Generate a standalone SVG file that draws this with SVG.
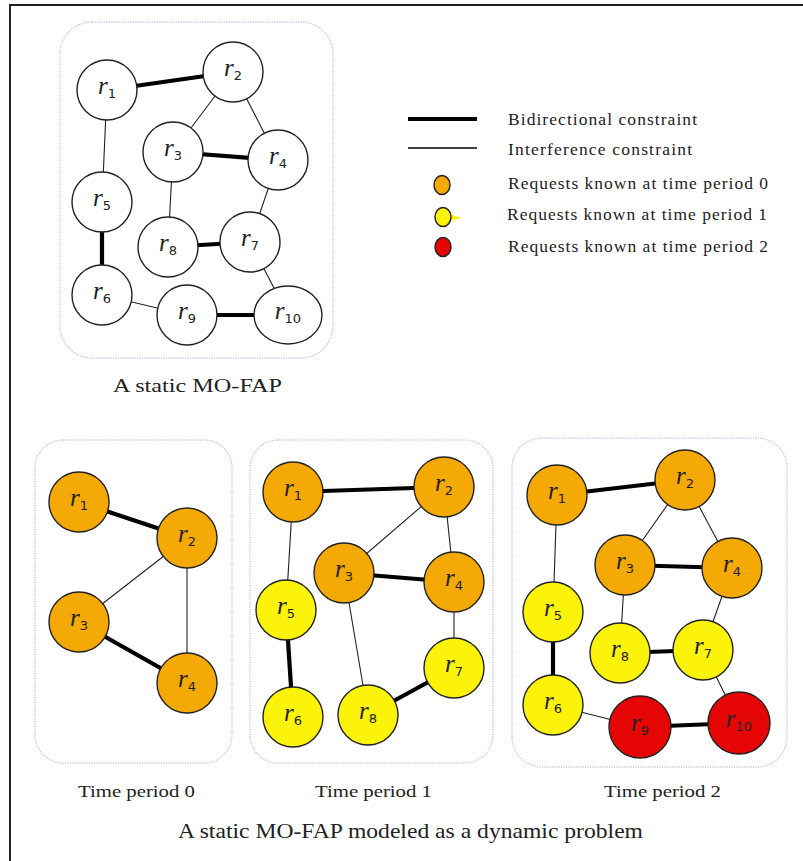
<svg xmlns="http://www.w3.org/2000/svg" width="803" height="861" viewBox="0 0 803 861">
  <style>
    .frame { fill: none; stroke: #222; stroke-width: 2; }
    .panel { fill: #fff; stroke: #bfcbe0; stroke-width: 1.5; stroke-dasharray: 1.2 1.2; }
    .thick { stroke: #000; stroke-width: 4.2; fill: none; }
    .thin { stroke: #222; stroke-width: 1.1; fill: none; }
    .node { stroke: #222; stroke-width: 1.4; }
    .white { fill: #fff; }
    .orange { fill: #f5a905; }
    .yellow { fill: #fbf30a; }
    .red { fill: #e60505; }
    .lbl { text-anchor: middle; fill: #222; }
    .r { font-family: "Liberation Serif", serif; font-style: italic; font-size: 25px; }
    .s { font-family: "DejaVu Sans", "Liberation Sans", sans-serif; font-size: 13px; }
    .cap { font-family: "Liberation Serif", serif; fill: #222; }
  </style>

  <rect width="803" height="861" fill="#fff"/>
  <rect class="frame" x="10" y="5" width="800" height="860"/>

  <!-- panels -->
  <rect class="panel" x="60" y="22" width="273" height="336" rx="32"/>
  <rect class="panel" x="35" y="440" width="197" height="323" rx="28"/>
  <rect class="panel" x="250" y="440" width="243" height="323" rx="28"/>
  <rect class="panel" x="512" y="438" width="275" height="329" rx="30"/>

  <!-- connectors -->
  <g id="connectors">
    <!-- static MO-FAP -->
    <line class="thick" x1="107" y1="90" x2="233" y2="72"/>
    <line class="thin" x1="233" y1="72" x2="173" y2="152"/>
    <line class="thin" x1="233" y1="72" x2="278" y2="160"/>
    <line class="thick" x1="173" y1="152" x2="278" y2="160"/>
    <line class="thin" x1="107" y1="90" x2="102" y2="202"/>
    <line class="thick" x1="102" y1="202" x2="102" y2="295"/>
    <line class="thin" x1="173" y1="152" x2="168" y2="247"/>
    <line class="thick" x1="168" y1="247" x2="250" y2="242"/>
    <line class="thin" x1="278" y1="160" x2="250" y2="242"/>
    <line class="thin" x1="250" y1="242" x2="288" y2="315"/>
    <line class="thin" x1="102" y1="295" x2="187" y2="315"/>
    <line class="thick" x1="187" y1="315" x2="288" y2="315"/>

    <!-- time period 0 -->
    <line class="thick" x1="79" y1="502" x2="187" y2="538"/>
    <line class="thin" x1="187" y1="538" x2="79" y2="622"/>
    <line class="thin" x1="187" y1="538" x2="187" y2="683"/>
    <line class="thick" x1="79" y1="622" x2="187" y2="683"/>

    <!-- time period 1 -->
    <line class="thick" x1="293" y1="492" x2="444" y2="487"/>
    <line class="thin" x1="444" y1="487" x2="344" y2="573"/>
    <line class="thin" x1="444" y1="487" x2="454" y2="582"/>
    <line class="thick" x1="344" y1="573" x2="454" y2="582"/>
    <line class="thin" x1="293" y1="492" x2="286" y2="610"/>
    <line class="thick" x1="286" y1="610" x2="293" y2="717"/>
    <line class="thin" x1="344" y1="573" x2="368" y2="715"/>
    <line class="thin" x1="454" y1="582" x2="454" y2="668"/>
    <line class="thick" x1="454" y1="668" x2="368" y2="715"/>

    <!-- time period 2 -->
    <line class="thick" x1="557" y1="495" x2="685" y2="480"/>
    <line class="thin" x1="685" y1="480" x2="625" y2="565"/>
    <line class="thin" x1="685" y1="480" x2="732" y2="568"/>
    <line class="thick" x1="625" y1="565" x2="732" y2="568"/>
    <line class="thin" x1="557" y1="495" x2="553" y2="612"/>
    <line class="thick" x1="553" y1="612" x2="553" y2="705"/>
    <line class="thin" x1="625" y1="565" x2="620" y2="653"/>
    <line class="thick" x1="620" y1="653" x2="703" y2="650"/>
    <line class="thin" x1="732" y1="568" x2="703" y2="650"/>
    <line class="thin" x1="703" y1="650" x2="739" y2="723"/>
    <line class="thin" x1="553" y1="705" x2="640" y2="727"/>
    <line class="thick" x1="640" y1="727" x2="739" y2="723"/>

    <!-- legend lines -->
    <line x1="408" y1="119" x2="477" y2="119" stroke="#000" stroke-width="4"/>
    <line x1="408" y1="148" x2="477" y2="148" stroke="#000" stroke-width="1.3"/>
  </g>

  <!-- static MO-FAP nodes -->
  <g id="s-r1"><circle class="node white" cx="107" cy="90" r="30"/><text class="lbl" x="107" y="94"><tspan class="r">r</tspan><tspan class="s" dy="4">1</tspan></text></g>
  <g id="s-r2"><circle class="node white" cx="233" cy="72" r="30"/><text class="lbl" x="233" y="76"><tspan class="r">r</tspan><tspan class="s" dy="4">2</tspan></text></g>
  <g id="s-r3"><circle class="node white" cx="173" cy="152" r="30"/><text class="lbl" x="173" y="156"><tspan class="r">r</tspan><tspan class="s" dy="4">3</tspan></text></g>
  <g id="s-r4"><circle class="node white" cx="278" cy="160" r="30"/><text class="lbl" x="278" y="164"><tspan class="r">r</tspan><tspan class="s" dy="4">4</tspan></text></g>
  <g id="s-r5"><circle class="node white" cx="102" cy="202" r="30"/><text class="lbl" x="102" y="206"><tspan class="r">r</tspan><tspan class="s" dy="4">5</tspan></text></g>
  <g id="s-r8"><circle class="node white" cx="168" cy="247" r="30"/><text class="lbl" x="168" y="251"><tspan class="r">r</tspan><tspan class="s" dy="4">8</tspan></text></g>
  <g id="s-r7"><circle class="node white" cx="250" cy="242" r="30"/><text class="lbl" x="250" y="246"><tspan class="r">r</tspan><tspan class="s" dy="4">7</tspan></text></g>
  <g id="s-r6"><circle class="node white" cx="102" cy="295" r="30"/><text class="lbl" x="102" y="299"><tspan class="r">r</tspan><tspan class="s" dy="4">6</tspan></text></g>
  <g id="s-r9"><circle class="node white" cx="187" cy="315" r="30"/><text class="lbl" x="187" y="319"><tspan class="r">r</tspan><tspan class="s" dy="4">9</tspan></text></g>
  <g id="s-r10"><ellipse class="node white" cx="288" cy="315" rx="34" ry="29"/><text class="lbl" x="288" y="319"><tspan class="r">r</tspan><tspan class="s" dy="4">10</tspan></text></g>

  <!-- legend -->
  <g id="legend">
    <text class="cap" x="508" y="125" font-size="17.5" textLength="189" lengthAdjust="spacing">Bidirectional  constraint</text>
    <text class="cap" x="508" y="155" font-size="17.5" textLength="184" lengthAdjust="spacing">Interference  constraint</text>
    <ellipse class="node orange" cx="442" cy="185" rx="8" ry="9.5"/>
    <text class="cap" x="508" y="189" font-size="17.5" textLength="260" lengthAdjust="spacing">Requests known at time period 0</text>
    <polygon points="449,214 462,218 449,221" fill="#fbf30a"/>
    <ellipse class="node yellow" cx="443" cy="217" rx="8" ry="9.5"/>
    <text class="cap" x="507" y="220" font-size="17.5" textLength="260" lengthAdjust="spacing">Requests known at time period 1</text>
    <ellipse class="node red" cx="443" cy="247" rx="8" ry="9.5"/>
    <text class="cap" x="508" y="252" font-size="17.5" textLength="260" lengthAdjust="spacing">Requests known at time period 2</text>
  </g>

  <!-- time period 0 nodes -->
  <g id="t0-r1"><circle class="node orange" cx="79" cy="502" r="30"/><text class="lbl" x="79" y="506"><tspan class="r">r</tspan><tspan class="s" dy="4">1</tspan></text></g>
  <g id="t0-r2"><circle class="node orange" cx="187" cy="538" r="30"/><text class="lbl" x="187" y="542"><tspan class="r">r</tspan><tspan class="s" dy="4">2</tspan></text></g>
  <g id="t0-r3"><circle class="node orange" cx="79" cy="622" r="30"/><text class="lbl" x="79" y="626"><tspan class="r">r</tspan><tspan class="s" dy="4">3</tspan></text></g>
  <g id="t0-r4"><circle class="node orange" cx="187" cy="683" r="30"/><text class="lbl" x="187" y="687"><tspan class="r">r</tspan><tspan class="s" dy="4">4</tspan></text></g>

  <!-- time period 1 nodes -->
  <g id="t1-r1"><circle class="node orange" cx="293" cy="492" r="30"/><text class="lbl" x="293" y="496"><tspan class="r">r</tspan><tspan class="s" dy="4">1</tspan></text></g>
  <g id="t1-r2"><circle class="node orange" cx="444" cy="487" r="30"/><text class="lbl" x="444" y="491"><tspan class="r">r</tspan><tspan class="s" dy="4">2</tspan></text></g>
  <g id="t1-r3"><circle class="node orange" cx="344" cy="573" r="30"/><text class="lbl" x="344" y="577"><tspan class="r">r</tspan><tspan class="s" dy="4">3</tspan></text></g>
  <g id="t1-r4"><circle class="node orange" cx="454" cy="582" r="30"/><text class="lbl" x="454" y="586"><tspan class="r">r</tspan><tspan class="s" dy="4">4</tspan></text></g>
  <g id="t1-r5"><circle class="node yellow" cx="286" cy="610" r="30"/><text class="lbl" x="286" y="614"><tspan class="r">r</tspan><tspan class="s" dy="4">5</tspan></text></g>
  <g id="t1-r7"><circle class="node yellow" cx="454" cy="668" r="30"/><text class="lbl" x="454" y="672"><tspan class="r">r</tspan><tspan class="s" dy="4">7</tspan></text></g>
  <g id="t1-r6"><circle class="node yellow" cx="293" cy="717" r="30"/><text class="lbl" x="293" y="721"><tspan class="r">r</tspan><tspan class="s" dy="4">6</tspan></text></g>
  <g id="t1-r8"><circle class="node yellow" cx="368" cy="715" r="30"/><text class="lbl" x="368" y="719"><tspan class="r">r</tspan><tspan class="s" dy="4">8</tspan></text></g>

  <!-- time period 2 nodes -->
  <g id="t2-r1"><circle class="node orange" cx="557" cy="495" r="30"/><text class="lbl" x="557" y="499"><tspan class="r">r</tspan><tspan class="s" dy="4">1</tspan></text></g>
  <g id="t2-r2"><circle class="node orange" cx="685" cy="480" r="30"/><text class="lbl" x="685" y="484"><tspan class="r">r</tspan><tspan class="s" dy="4">2</tspan></text></g>
  <g id="t2-r3"><circle class="node orange" cx="625" cy="565" r="30"/><text class="lbl" x="625" y="569"><tspan class="r">r</tspan><tspan class="s" dy="4">3</tspan></text></g>
  <g id="t2-r4"><circle class="node orange" cx="732" cy="568" r="30"/><text class="lbl" x="732" y="572"><tspan class="r">r</tspan><tspan class="s" dy="4">4</tspan></text></g>
  <g id="t2-r5"><circle class="node yellow" cx="553" cy="612" r="30"/><text class="lbl" x="553" y="616"><tspan class="r">r</tspan><tspan class="s" dy="4">5</tspan></text></g>
  <g id="t2-r8"><circle class="node yellow" cx="620" cy="653" r="30"/><text class="lbl" x="620" y="657"><tspan class="r">r</tspan><tspan class="s" dy="4">8</tspan></text></g>
  <g id="t2-r7"><circle class="node yellow" cx="703" cy="650" r="30"/><text class="lbl" x="703" y="654"><tspan class="r">r</tspan><tspan class="s" dy="4">7</tspan></text></g>
  <g id="t2-r6"><circle class="node yellow" cx="553" cy="705" r="30"/><text class="lbl" x="553" y="709"><tspan class="r">r</tspan><tspan class="s" dy="4">6</tspan></text></g>
  <g id="t2-r9"><circle class="node red" cx="640" cy="727" r="31"/><text class="lbl" x="640" y="731"><tspan class="r">r</tspan><tspan class="s" dy="4">9</tspan></text></g>
  <g id="t2-r10"><circle class="node red" cx="739" cy="723" r="31"/><text class="lbl" x="739" y="727"><tspan class="r">r</tspan><tspan class="s" dy="4">10</tspan></text></g>

  <!-- captions -->
  <text class="cap" x="113" y="392" font-size="19" textLength="169" lengthAdjust="spacingAndGlyphs">A static MO-FAP</text>
  <text class="cap" x="78" y="797" font-size="17" textLength="117" lengthAdjust="spacingAndGlyphs">Time period 0</text>
  <text class="cap" x="315" y="797" font-size="17" textLength="117" lengthAdjust="spacingAndGlyphs">Time period 1</text>
  <text class="cap" x="604" y="797" font-size="17" textLength="117" lengthAdjust="spacingAndGlyphs">Time period 2</text>
  <text class="cap" x="178" y="838" font-size="21" textLength="465" lengthAdjust="spacingAndGlyphs">A static MO-FAP modeled as a dynamic problem</text>
</svg>
